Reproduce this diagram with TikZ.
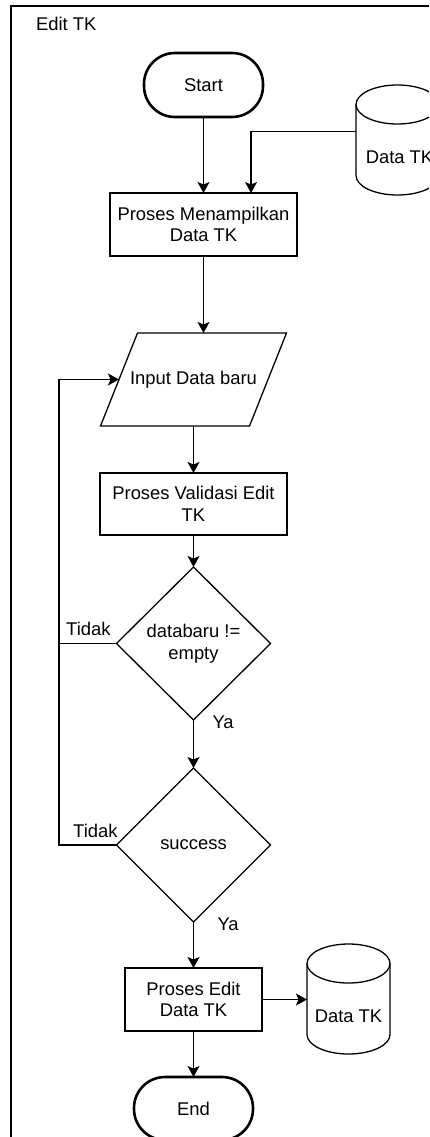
\documentclass[tikz,border=0pt]{standalone}
\usepackage{fontspec}
\setmainfont{Liberation Sans}
\usetikzlibrary{arrows.meta,shapes.geometric,calc}

% database drum drawn around an (invisible) rectangular node
\newcommand\dbdrum[1]{%
  \draw[line] ([yshift=-19.5pt]#1.north west) -- ([yshift=19.5pt]#1.south west)
    .. controls ([yshift=8.7pt]#1.south west) and ([xshift=-22.9pt]#1.south) .. (#1.south)
    .. controls ([xshift=22.9pt]#1.south) and ([yshift=8.7pt]#1.south east) .. ([yshift=19.5pt]#1.south east)
    -- ([yshift=-19.5pt]#1.north east);
  \draw[line] ([yshift=-19.5pt]#1.north) ellipse [x radius=41.5pt, y radius=19.5pt];
}

\begin{document}
\begin{tikzpicture}[x=1pt,y=-1pt,
  font=\fontsize{18.4}{21.7}\selectfont,
  line/.style={line width=1.3pt, draw=black},
  arr/.style={line, -{Stealth[length=11pt,width=12pt,inset=2.5pt]}},
  box/.style={draw, line width=1.3pt, rectangle, align=center, inner sep=0pt, outer sep=0pt},
  term/.style={draw, line width=2.6pt, rectangle, rounded corners=31pt, align=center, inner sep=0pt, outer sep=0pt},
  dec/.style={draw, diamond, line width=1.3pt, align=center, inner sep=0pt, outer sep=0pt},
  hold/.style={rectangle, inner sep=0pt, outer sep=0pt, align=center},
  lbl/.style={inner sep=0pt, outer sep=0pt}]

\useasboundingbox (0,0) rectangle (429,1137);
\clip (0,0) rectangle (429,1137);

% swimlane frame
\draw[line width=2pt] (11,6) rectangle (480,1200);
\node[lbl, anchor=base west] (title) at (36,31) {Edit TK};

% flow nodes
\node[term, minimum width=119pt, minimum height=64pt] (start) at (203.5,85) {Start};
\node[hold, minimum width=83pt, minimum height=110pt] (src) at (397.5,140) {};
\dbdrum{src}
\node[lbl] (srctext) at ([xshift=2pt,yshift=-17.5pt]src.center) {Data TK};

\node[box, minimum width=187pt, minimum height=63pt] (show) at (203.5,224.5) {Proses Menampilkan\\Data TK};

\node[hold, minimum width=186pt, minimum height=93pt] (input) at (193.5,379.5) {Input Data baru};
\draw[line] ([xshift=37pt]input.north west) -- (input.north east)
  -- ([xshift=-37pt]input.south east) -- (input.south west) -- cycle;

\node[box, minimum width=187pt, minimum height=62pt] (valid) at (193.5,504) {Proses Validasi Edit\\TK};
\node[dec, minimum width=154pt, minimum height=153pt] (chk) at (193.5,643.5) {databaru !=\\empty};
\node[dec, minimum width=154pt, minimum height=154pt] (ok) at (193.5,845) {success};
\node[box, minimum width=137pt, minimum height=63pt] (save) at (193.5,999.5) {Proses Edit\\Data TK};
\node[hold, minimum width=83pt, minimum height=110pt] (dst) at (348.5,999) {};
\dbdrum{dst}
\node[lbl] (dsttext) at ([yshift=-17.5pt]dst.center) {Data TK};
\node[term, minimum width=119pt, minimum height=63pt] (stop) at (193.5,1108.5) {End};

% connectors
\draw[arr] (start) -- (show);
\draw[arr] ([yshift=8.5pt]src.west) -| ([xshift=47.5pt]show.north);
\draw[arr] (show.south) -- (show.south |- input.north);
\draw[arr] (input.south) -- (valid.north);
\draw[arr] (valid) -- (chk);
\draw[arr] (chk) -- (ok);
\draw[arr] (ok) -- (save);
\draw[arr] (save) -- (stop);
\draw[arr] (save.east) -- (save.east -| dst.west);

\coordinate (back) at (59,380);
\draw[arr] (chk.west) -- (chk.west -| back) |- ([xshift=18.5pt]input.west);
\draw[line] (ok.west) -- (ok.west -| back) -- (chk.west -| back);

% branch labels
\node[lbl, anchor=base east] (no1) at ([xshift=-6pt,yshift=8.5pt]chk.west) {Tidak};
\node[lbl, anchor=base east] (no2) at ([xshift=1pt,yshift=8pt]ok.west) {Tidak};
\node[lbl, anchor=base west] (yes1) at ([xshift=19pt,yshift=-8pt]chk.south) {Ya};
\node[lbl, anchor=base west] (yes2) at ([xshift=24pt,yshift=-8pt]ok.south) {Ya};
\end{tikzpicture}
\end{document}
